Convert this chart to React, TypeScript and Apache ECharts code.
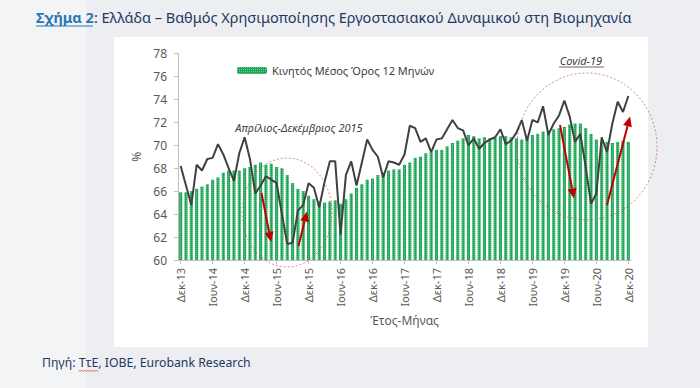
import React, { useEffect, useRef } from 'react';
import * as echarts from 'echarts';

const FONT = "'Noto Sans', 'Open Sans', sans-serif";

// Month abbreviations and years used to build the category labels (Δεκ-13 ... Δεκ-20)
const monthNames = ['Ιαν', 'Φεβ', 'Μαρ', 'Απρ', 'Μαϊ', 'Ιουν', 'Ιουλ', 'Αυγ', 'Σεπ', 'Οκτ', 'Νοε', 'Δεκ'];
const categories: string[] = [];
for (let i = 0; i < 85; i++) {
  const m = (11 + i) % 12;
  const y = 13 + Math.floor((11 + i) / 12);
  categories.push(`${monthNames[m]}-${y}`);
}

// 12-month moving average (bars)
const movingAvg = [
  65.9, 65.9, 66.0, 66.2, 66.4, 66.6, 67.0, 67.2, 67.6, 67.8,
  67.8, 67.8, 68.0, 68.1, 68.3, 68.5, 68.3, 68.4, 68.1, 68.0,
  67.4, 66.7, 66.2, 66.0, 65.6, 65.3, 65.1, 65.0, 65.1, 65.2,
  64.9, 65.3, 65.8, 66.3, 66.6, 67.0, 67.1, 67.4, 67.6, 67.8,
  67.9, 67.9, 68.3, 68.5, 68.9, 69.0, 69.3, 69.4, 69.6, 69.6,
  69.9, 70.2, 70.4, 70.6, 70.9, 70.8, 70.6, 70.7, 70.6, 70.7,
  70.8, 70.8, 70.7, 70.6, 70.5, 70.6, 70.9, 71.0, 71.2, 71.3,
  71.4, 71.5, 71.6, 71.8, 71.9, 71.9, 71.5, 71.0, 70.5, 70.3,
  70.3, 70.2, 70.3, 70.4, 70.3,
];

// Monthly capacity utilisation (line)
const monthly = [
  68.2, 66.5, 64.8, 68.3, 67.8, 68.8, 68.9, 70.1, 69.2, 68.0,
  66.9, 69.3, 70.7, 68.8, 65.8, 66.5, 67.3, 67.0, 66.7, 64.0,
  61.4, 61.5, 64.3, 64.8, 66.7, 66.3, 64.6, 66.8, 68.6, 68.6,
  62.2, 67.4, 68.6, 66.5, 68.5, 70.5, 69.6, 69.0, 67.2, 68.6,
  68.5, 68.3, 69.2, 71.7, 71.5, 70.3, 70.6, 69.4, 70.5, 70.6,
  71.4, 72.2, 71.5, 71.3, 70.0, 70.6, 69.7, 70.2, 70.5, 70.7,
  71.4, 70.1, 70.4, 71.1, 72.2, 70.4, 72.2, 72.0, 73.4, 70.9,
  71.9, 72.6, 73.9, 72.5, 70.3, 71.0, 68.1, 64.9, 65.8, 70.7,
  69.4, 71.9, 73.8, 72.9, 74.3,
];

const yMin = 60;
const yMax = 78;
const yStep = 2;

const titleA = 'Σχήμα 2';
const titleB = ': Ελλάδα – Βαθμός Χρησιμοποίησης Εργοστασιακού Δυναμικού στη Βιομηχανία';
const sourceText = 'Πηγή: ΤτΕ, ΙΟΒΕ, Eurobank Research';
const legendName = 'Κινητός Μέσος Όρος 12 Μηνών';
const noteA = 'Απρίλιος-Δεκέμβριος 2015';
const noteB = 'Covid-19';
const xName = 'Έτος-Μήνας';

function measure(text: string, font: string): number {
  const c = document.createElement('canvas').getContext('2d');
  if (!c) return text.length * 7;
  c.font = font;
  return c.measureText(text).width;
}

function arrow(x1: number, y1: number, x2: number, y2: number, color: string) {
  const ang = Math.atan2(y2 - y1, x2 - x1);
  const L = 10;
  const W = 4.5;
  const bx = x2 - L * Math.cos(ang);
  const by = y2 - L * Math.sin(ang);
  const px = -Math.sin(ang) * W;
  const py = Math.cos(ang) * W;
  return [
    { type: 'line', z: 50, shape: { x1, y1, x2: bx, y2: by }, style: { stroke: color, lineWidth: 2 } },
    {
      type: 'polygon',
      z: 50,
      shape: { points: [[x2, y2], [bx + px, by + py], [bx - px, by - py]] },
      style: { fill: color },
    },
  ];
}

export default function App() {
  const ref = useRef<HTMLDivElement>(null);

  useEffect(() => {
    if (!ref.current) return;
    const chart = echarts.init(ref.current, null, { renderer: 'svg' });

    // fit title width
    const tW = measure(titleA, `bold 14px ${FONT}`) + measure(titleB, `14px ${FONT}`);
    const tSize = Math.min(14.5, (14 * 627) / tW);
    const tAW = measure(titleA, `bold ${tSize}px ${FONT}`);
    const sW = measure(sourceText, `13px ${FONT}`);
    const sSize = Math.min(13.5, (13 * 209) / sW);
    const sPre = measure('Πηγή: ', `${sSize}px ${FONT}`);
    const sTte = measure('ΤτΕ', `${sSize}px ${FONT}`);

    const red = '#c00000';
    const squiggle: number[][] = [];
    for (let x = 42 + sPre, k = 0; x <= 42 + sPre + sTte + 0.1; x += 1.5, k++) {
      squiggle.push([x, 370 + (k % 2 === 0 ? 0 : 1.5)]);
    }

    const option: any = {
      animation: false,
      backgroundColor: '#eceef2',
      grid: { left: 178, right: 69, top: 53.5, bottom: 128, containLabel: false },
      legend: {
        data: [legendName],
        left: 232,
        top: 60,
        itemWidth: 30,
        itemHeight: 7,
        textStyle: { fontFamily: FONT, fontSize: 11, color: '#404040' },
      },
      xAxis: {
        type: 'category',
        data: categories,
        boundaryGap: true,
        name: xName,
        nameLocation: 'middle',
        nameGap: 54,
        nameTextStyle: { fontFamily: FONT, fontSize: 12, color: '#595959' },
        axisLine: { lineStyle: { color: '#bfbfbf', width: 1 } },
        axisTick: { show: true, interval: 5, alignWithLabel: true, length: 4, lineStyle: { color: '#bfbfbf' } },
        axisLabel: { interval: 5, rotate: 90, fontFamily: FONT, fontSize: 11, color: '#595959', margin: 8 },
        splitLine: { show: false },
      },
      yAxis: {
        type: 'value',
        min: yMin,
        max: yMax,
        interval: yStep,
        name: '%',
        nameLocation: 'middle',
        nameGap: 31,
        nameRotate: 90,
        nameTextStyle: { fontFamily: FONT, fontSize: 12, color: '#595959' },
        axisLine: { show: true, lineStyle: { color: '#bfbfbf', width: 1 } },
        axisTick: { show: true, length: 4, lineStyle: { color: '#bfbfbf' } },
        axisLabel: { fontFamily: FONT, fontSize: 12, color: '#595959', margin: 11 },
        splitLine: { show: false },
      },
      series: [
        {
          name: legendName,
          type: 'bar',
          data: movingAvg,
          barCategoryGap: '42%',
          z: 2,
          itemStyle: {
            color: '#1fa658',
            decal: {
              symbol: 'rect',
              symbolSize: 1,
              color: 'rgba(255,255,255,0.35)',
              dashArrayX: [1, 1],
              dashArrayY: [1, 1],
              rotation: 0,
            },
          },
        },
        {
          name: 'Μηνιαίος',
          type: 'line',
          data: monthly,
          showSymbol: false,
          symbol: 'none',
          z: 3,
          lineStyle: { color: '#404040', width: 2 },
        },
      ],
      graphic: [
        { type: 'rect', z: -10, silent: true, shape: { x: 0, y: 0, width: 86, height: 388 }, style: { fill: '#f3f4f6' } },
        { type: 'rect', z: -9, silent: true, shape: { x: 114, y: 37, width: 534, height: 310 }, style: { fill: '#ffffff' } },
        {
          type: 'text',
          z: 50,
          x: 36,
          y: 17,
          style: {
            text: `{a|${titleA}}{b|${titleB}}`,
            verticalAlign: 'middle',
            rich: {
              a: { fontFamily: FONT, fontSize: tSize, fontWeight: 'bold', fill: '#2e75b6' },
              b: { fontFamily: FONT, fontSize: tSize, fill: '#1f3864' },
            },
          },
        },
        {
          type: 'line',
          z: 50,
          shape: { x1: 36, y1: 17 + tSize * 0.62, x2: 36 + tAW - 1, y2: 17 + tSize * 0.62 },
          style: { stroke: '#2e75b6', lineWidth: 1.2 },
        },
        {
          type: 'text',
          z: 50,
          x: 42,
          y: 362,
          style: { text: sourceText, fontFamily: FONT, fontSize: sSize, fill: '#1f3864', verticalAlign: 'middle' },
        },
        { type: 'polyline', z: 50, shape: { points: squiggle }, style: { stroke: '#e04040', lineWidth: 0.8, fill: 'none' } },
        {
          type: 'text',
          z: 50,
          x: 299,
          y: 127,
          style: {
            text: noteA,
            fontFamily: FONT,
            fontSize: 11,
            fontStyle: 'italic',
            fill: '#404040',
            align: 'center',
            verticalAlign: 'middle',
          },
        },
        {
          type: 'text',
          z: 50,
          x: 581,
          y: 60,
          style: {
            text: noteB,
            fontFamily: FONT,
            fontSize: 11,
            fontStyle: 'italic',
            fill: '#404040',
            align: 'center',
            verticalAlign: 'middle',
          },
        },
        {
          type: 'line',
          z: 50,
          shape: { x1: 559, y1: 67, x2: 604, y2: 67 },
          style: { stroke: '#404040', lineWidth: 0.8 },
        },
        {
          type: 'ellipse',
          z: 40,
          shape: { cx: 287, cy: 212.5, rx: 45, ry: 54.5 },
          style: { fill: 'none', stroke: '#c0504d', lineWidth: 0.8, lineDash: [2, 2], opacity: 0.8 },
        },
        {
          type: 'ellipse',
          z: 40,
          shape: { cx: 587, cy: 146.5, rx: 70, ry: 73.5 },
          style: { fill: 'none', stroke: '#c0504d', lineWidth: 0.8, lineDash: [2, 2], opacity: 0.8 },
        },
        ...arrow(261.5, 193, 271, 242, red),
        ...arrow(298.5, 246, 307, 211.5, red),
        ...arrow(560, 125, 574, 198.5, red),
        ...arrow(607, 205, 630, 116.5, red),
      ],
    };

    chart.setOption(option);
    return () => chart.dispose();
  }, []);

  return <div ref={ref} style={{ position: 'fixed', left: 0, top: 0, width: 700, height: 388 }} />;
}
